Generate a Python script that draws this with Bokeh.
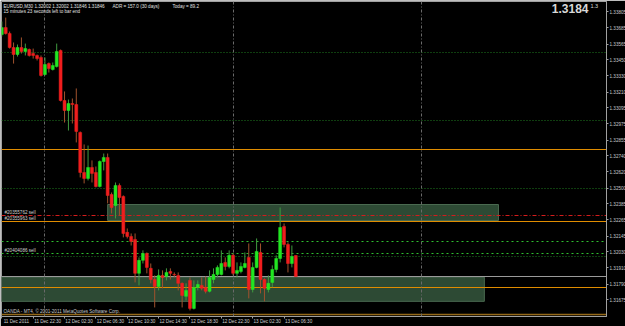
from bokeh.plotting import figure
from bokeh.models import Range1d, FixedTicker, Label
from bokeh.embed import file_html
from bokeh.resources import INLINE

# ---------------- data (EURUSD M30) ----------------
bars = list(range(76))
opens = [1.33636, 1.33687, 1.33643, 1.33540, 1.33488, 1.33540, 1.33510, 1.33525, 1.33495, 1.33481,
         1.33466, 1.33340, 1.33421, 1.33377, 1.33399, 1.33518, 1.33148, 1.33074, 1.33126, 1.33118,
         1.32912, 1.32616, 1.32572, 1.32653, 1.32616, 1.32512, 1.32697, 1.32727, 1.32453, 1.32372,
         1.32520, 1.32439, 1.32173, 1.32143, 1.32121, 1.31870, 1.31966, 1.32017, 1.31907, 1.31825,
         1.31773, 1.31855, 1.31847, 1.31884, 1.31862, 1.31855, 1.31796, 1.31700, 1.31818, 1.31611,
         1.31766, 1.31781, 1.31766, 1.31737, 1.31825, 1.31862, 1.31862, 1.31951, 1.31921, 1.32003,
         1.31870, 1.31884, 1.31914, 1.31988, 1.31751, 1.31914, 1.32025, 1.31825, 1.31751, 1.31803,
         1.31899, 1.31980, 1.32217, 1.32084, 1.31943, 1.32002]
highs = [1.33732, 1.33761, 1.33658, 1.33577, 1.33562, 1.33614, 1.33569, 1.33532, 1.33532, 1.33488,
         1.33481, 1.33466, 1.33429, 1.33429, 1.33569, 1.33525, 1.33215, 1.33155, 1.33163, 1.33237,
         1.32919, 1.32823, 1.32815, 1.32705, 1.32660, 1.32705, 1.32756, 1.32756, 1.32468, 1.32542,
         1.32535, 1.32446, 1.32202, 1.32165, 1.32165, 1.31988, 1.32040, 1.32025, 1.31943, 1.31855,
         1.31899, 1.31892, 1.31907, 1.31907, 1.31877, 1.31877, 1.31803, 1.31796, 1.31840, 1.31818,
         1.31818, 1.31840, 1.31847, 1.31892, 1.31907, 1.31929, 1.32040, 1.31988, 1.32040, 1.32017,
         1.31951, 1.31951, 1.32025, 1.32091, 1.31951, 1.32128, 1.32091, 1.31833, 1.31855, 1.31929,
         1.32003, 1.32357, 1.32239, 1.32099, 1.32076, 1.32002]
lows = [1.33621, 1.33636, 1.33532, 1.33421, 1.33473, 1.33495, 1.33481, 1.33473, 1.33458, 1.33444,
        1.33325, 1.33333, 1.33355, 1.33370, 1.33392, 1.33141, 1.32985, 1.32926, 1.32978, 1.32838,
        1.32579, 1.32535, 1.32557, 1.32542, 1.32505, 1.32505, 1.32631, 1.32387, 1.32313, 1.32276,
        1.32298, 1.32136, 1.32128, 1.32076, 1.31803, 1.31781, 1.31943, 1.31870, 1.31796, 1.31618,
        1.31744, 1.31759, 1.31818, 1.31825, 1.31840, 1.31744, 1.31618, 1.31670, 1.31596, 1.31603,
        1.31744, 1.31744, 1.31722, 1.31729, 1.31796, 1.31840, 1.31855, 1.31892, 1.31907, 1.31855,
        1.31840, 1.31870, 1.31907, 1.31685, 1.31729, 1.31907, 1.31722, 1.31663, 1.31729, 1.31766,
        1.31877, 1.31951, 1.32062, 1.31877, 1.31914, 1.31846]
closes = [1.33687, 1.33643, 1.33540, 1.33488, 1.33540, 1.33510, 1.33532, 1.33481, 1.33481, 1.33458,
          1.33333, 1.33414, 1.33384, 1.33407, 1.33510, 1.33148, 1.33074, 1.33126, 1.33118, 1.32919,
          1.32616, 1.32572, 1.32653, 1.32609, 1.32512, 1.32697, 1.32727, 1.32446, 1.32357, 1.32520,
          1.32431, 1.32165, 1.32143, 1.32106, 1.31870, 1.31966, 1.32017, 1.31914, 1.31825, 1.31773,
          1.31855, 1.31840, 1.31877, 1.31870, 1.31859, 1.31796, 1.31707, 1.31744, 1.31611, 1.31766,
          1.31788, 1.31759, 1.31737, 1.31840, 1.31862, 1.31914, 1.31943, 1.31921, 1.32003, 1.31870,
          1.31892, 1.31921, 1.31943, 1.31751, 1.31914, 1.32032, 1.31825, 1.31759, 1.31796, 1.31899,
          1.31980, 1.32209, 1.32084, 1.31943, 1.31995, 1.31846]

time_tick_bars = [0, 8, 16, 24, 32, 40, 48, 56, 64, 72]
time_tick_labels = ["11 Dec 2011", "11 Dec 22:30", "12 Dec 02:30", "12 Dec 06:30", "12 Dec 10:30",
                    "12 Dec 14:30", "12 Dec 18:30", "12 Dec 22:30", "13 Dec 02:30", "13 Dec 06:30"]
day_separator_bars = [11, 59, 107]

price_ticks = [1.33805, 1.33685, 1.33565, 1.33450, 1.33330, 1.33210, 1.33095, 1.32975, 1.32855,
               1.32740, 1.32620, 1.32500, 1.32385, 1.32265, 1.32145, 1.32030, 1.31910, 1.31790, 1.31675]

dotted_levels = [1.33500, 1.33000, 1.32500, 1.31995]
orange_levels = [1.32786, 1.32257, 1.31764]
brown_levels = [1.31564]
dashdot_levels = [1.32298]
green_dash_levels = [1.32104, 1.32020]
bid = 1.31846

zone_left = [27, -2]
zone_right = [126.7, 123.1]
zone_top = [1.32379, 1.31842]
zone_bottom = [1.32261, 1.31663]

order_labels = ["#20355762 sell", "#20355963 sell", "#20404086 sell"]
order_levels = [1.32298, 1.32257, 1.32020]

header_symbol = "EURUSD,M30  1.32002 1.32002 1.31846 1.31846"
header_adr = "ADR = 157.0  (30 days)"
header_today = "Today = 89.2"
header_timer = "15 minutes 23 seconds left to bar end"
big_price = "1.3184"
spread_text = "1.3"
copyright_text = "OANDA - MT4, \u00a9 2001-2011 MetaQuotes Software Corp."

# ---------------- figure ----------------
FONT = "Liberation Sans"
SMALL = "4.6px"
x_start, x_end = -0.08, 154.26
y_start, y_end = 1.31551, 1.33880

p = figure(frame_width=605, frame_height=315, output_backend="svg", toolbar_location=None,
           x_range=Range1d(x_start, x_end), y_range=Range1d(y_start, y_end),
           y_axis_location="right",
           background_fill_color="#000000", border_fill_color="#000000",
           min_border_left=1, min_border_top=1, min_border_right=19, min_border_bottom=8,
           outline_line_color="#a0a0a0")
p.grid.visible = False

# zones
p.quad(left=zone_left, right=zone_right, top=zone_top, bottom=zone_bottom,
       fill_color="#2d4a34", line_color="#4a6a50", line_width=1)

# horizontal levels
p.hspan(y=dotted_levels, line_color="#1f7a1f", line_width=1, line_dash="1 2")
p.hspan(y=green_dash_levels, line_color="#2fc02f", line_width=1, line_dash="2 3")
p.hspan(y=dashdot_levels, line_color="#d41c1c", line_width=1, line_dash="4 2 1 2")
p.hspan(y=orange_levels, line_color="#e08c00", line_width=1)
p.hspan(y=brown_levels, line_color="#946818", line_width=1.5)
p.hspan(y=[bid], line_color="#9a9a9a", line_width=1)

# day separators
p.vspan(x=day_separator_bars, line_color="#6a6a6a", line_width=1, line_dash="3 2 1 2")

# candles
up = [c >= o for o, c in zip(opens, closes)]
body_colors = ["#22e622" if u else "#f01e1e" for u in up]
wick_colors = ["#3f9a3f" if u else "#a0522d" for u in up]
body_top = [max(o, c) for o, c in zip(opens, closes)]
body_bottom = [min(o, c) for o, c in zip(opens, closes)]
p.segment(x0=bars, y0=lows, x1=bars, y1=highs, line_color=wick_colors, line_width=1)
p.vbar(x=bars, width=0.75, top=body_top, bottom=body_bottom,
       fill_color=body_colors, line_color=body_colors, line_width=0.5)

# time axis: labels sit to the right of their tick (MT4 style)
label_shift = 3.7
label_centers = [b + label_shift for b in time_tick_bars]
p.xaxis.ticker = FixedTicker(ticks=label_centers, minor_ticks=time_tick_bars)
p.xaxis.major_label_overrides = {c: t for c, t in zip(label_centers, time_tick_labels)}
p.xaxis.major_label_text_font = FONT
p.xaxis.major_label_text_font_size = SMALL
p.xaxis.major_label_text_color = "#d0d0d0"
p.xaxis.major_label_standoff = 0
p.xaxis.major_tick_out = 0
p.xaxis.major_tick_in = 0
p.xaxis.major_tick_line_color = None
p.xaxis.minor_tick_out = 2
p.xaxis.minor_tick_in = 0
p.xaxis.minor_tick_line_color = "#a0a0a0"
p.xaxis.axis_line_color = None

# price axis
p.yaxis.ticker = FixedTicker(ticks=price_ticks)
p.yaxis.major_label_overrides = {v: f"{v:.5f}" for v in price_ticks}
p.yaxis.major_label_text_font = FONT
p.yaxis.major_label_text_font_size = SMALL
p.yaxis.major_label_text_color = "#c8c8c8"
p.yaxis.major_label_standoff = 1
p.yaxis.major_tick_out = 2
p.yaxis.major_tick_in = 0
p.yaxis.major_tick_line_color = "#a0a0a0"
p.yaxis.minor_tick_line_color = None
p.yaxis.axis_line_color = "#a0a0a0"

# highlighted price labels on the axis
highlight = [(1.33500, "#0a6e0a", "#c8ffc8"), (1.33000, "#0a6e0a", "#c8ffc8"),
             (1.32500, "#0a6e0a", "#c8ffc8"), (1.32104, "#19c019", "#003000"),
             (1.32020, "#0a6e0a", "#c8ffc8"),
             (1.32786, "#f0a010", "#ffffff"), (1.32257, "#f0a010", "#ffffff"),
             (1.31764, "#f0a010", "#ffffff"), (1.31564, "#f0a010", "#ffffff"),
             (bid, "#f2f2f2", "#000000")]
for price, bg, fg in highlight:
    p.add_layout(Label(x=x_end, y=price, x_offset=1, text=f"{price:.5f}",
                       text_baseline="middle", text_align="left",
                       text_font=FONT, text_font_size=SMALL, text_color=fg,
                       background_fill_color=bg, padding=1))

# order labels
for lab, lev in zip(order_labels, order_levels):
    p.add_layout(Label(x=x_start, y=lev, x_offset=3, y_offset=2.5, text=lab,
                       text_baseline="middle", text_font=FONT, text_font_size=SMALL,
                       text_color="#d0d0d0"))

# header texts
p.add_layout(Label(x=x_start, y=y_end, x_offset=2, y_offset=-2, text=header_symbol,
                   text_baseline="top", text_font=FONT, text_font_size=SMALL, text_color="#e0e0e0"))
p.add_layout(Label(x=x_start, y=y_end, x_offset=111, y_offset=-2, text=header_adr,
                   text_baseline="top", text_font=FONT, text_font_size=SMALL, text_color="#e0e0e0"))
p.add_layout(Label(x=x_start, y=y_end, x_offset=171, y_offset=-2, text=header_today,
                   text_baseline="top", text_font=FONT, text_font_size=SMALL, text_color="#e0e0e0"))
p.add_layout(Label(x=x_start, y=y_end, x_offset=2, y_offset=-7.5, text=header_timer,
                   text_baseline="top", text_font=FONT, text_font_size=SMALL, text_color="#e0e0e0"))
p.add_layout(Label(x=x_end, y=y_end, x_offset=-18, y_offset=-2, text=big_price,
                   text_baseline="top", text_align="right", text_font=FONT,
                   text_font_size="12px", text_font_style="bold", text_color="#d8d8d8"))
p.add_layout(Label(x=x_end, y=y_end, x_offset=-16, y_offset=-2, text=spread_text,
                   text_baseline="top", text_align="left", text_font=FONT,
                   text_font_size="5.5px", text_color="#d8d8d8"))
p.add_layout(Label(x=x_start, y=y_start, x_offset=2, y_offset=3, text=copyright_text,
                   text_baseline="bottom", text_font=FONT, text_font_size=SMALL, text_color="#c8c8c8"))

open("out.html", "w").write(file_html(p, INLINE))
